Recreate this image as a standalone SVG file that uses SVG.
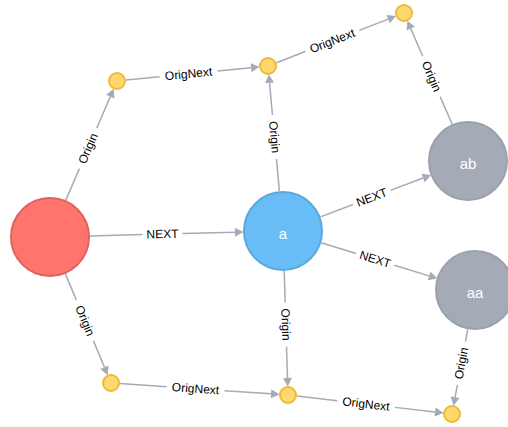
<svg xmlns="http://www.w3.org/2000/svg" width="508" height="427" viewBox="0 0 508 427">
<style>
.bg{fill:#ffffff}
.edge line{stroke:#A5ABB6;stroke-width:1.5;fill:none}
.edge text{font-family:"Liberation Sans",Arial,sans-serif;font-size:12px;fill:#000;text-anchor:middle;dominant-baseline:central}
.big{stroke-width:2}
.red{fill:#FF756E;stroke:#E0625D}
.blue{fill:#68BDF6;stroke:#5CA8DB}
.gray{fill:#A5ABB6;stroke:#9AA1AC}
.small{fill:#FFD86E;stroke:#EDBA39;stroke-width:2}
.nl{font-family:"Liberation Sans",Arial,sans-serif;font-size:15px;fill:#ffffff;text-anchor:middle;dominant-baseline:central}
</style>
<defs>
<marker id="arr" markerUnits="userSpaceOnUse" markerWidth="10" markerHeight="10" viewBox="0 -5 9 10" refX="0" refY="0" orient="auto">
<path d="M0,-4.5 L8.5,0 L0,4.5 Z" fill="#A5ABB6"/>
</marker>
</defs>
<rect class="bg" x="0" y="0" width="508" height="427"/>
<g id="connectors">
<g class="edge" transform="translate(88.04,148.44) rotate(-66.76)"><line x1="-56.4" y1="0" x2="-22" y2="0"/><line x1="22" y1="0" x2="56.4" y2="0" marker-end="url(#arr)"/><text x="0" y="0">Origin</text></g>
<g class="edge" transform="translate(84.94,320.6) rotate(67.33)"><line x1="-50.6" y1="0" x2="-22" y2="0"/><line x1="22" y1="0" x2="50.6" y2="0" marker-end="url(#arr)"/><text x="0" y="0">Origin</text></g>
<g class="edge" transform="translate(162.5,234.1) rotate(-1.475)"><line x1="-72.54" y1="0" x2="-20" y2="0"/><line x1="20" y1="0" x2="72.54" y2="0" marker-end="url(#arr)"/><text x="0" y="0">NEXT</text></g>
<g class="edge" transform="translate(188.52,73.9) rotate(-5.673)"><line x1="-62.87" y1="0" x2="-29" y2="0"/><line x1="29" y1="0" x2="62.87" y2="0" marker-end="url(#arr)"/><text x="0" y="0">OrigNext</text></g>
<g class="edge" transform="translate(332.27,40.95) rotate(-21.29)"><line x1="-59.98" y1="0" x2="-29" y2="0"/><line x1="29" y1="0" x2="59.98" y2="0" marker-end="url(#arr)"/><text x="0" y="0">OrigNext</text></g>
<g class="edge" transform="translate(274.46,137.05) rotate(84.81)"><line x1="54.34" y1="0" x2="22" y2="0"/><line x1="-22" y1="0" x2="-54.34" y2="0" marker-end="url(#arr)"/><text x="0" y="0">Origin</text></g>
<g class="edge" transform="translate(431.44,76.45) rotate(66.62)"><line x1="52.12" y1="0" x2="22" y2="0"/><line x1="-22" y1="0" x2="-52.12" y2="0" marker-end="url(#arr)"/><text x="0" y="0">Origin</text></g>
<g class="edge" transform="translate(371.76,197.42) rotate(-20.73)"><line x1="-54.9" y1="0" x2="-20" y2="0"/><line x1="20" y1="0" x2="54.9" y2="0" marker-end="url(#arr)"/><text x="0" y="0">NEXT</text></g>
<g class="edge" transform="translate(375.18,259.33) rotate(17.08)"><line x1="-56.43" y1="0" x2="-20" y2="0"/><line x1="20" y1="0" x2="56.43" y2="0" marker-end="url(#arr)"/><text x="0" y="0">NEXT</text></g>
<g class="edge" transform="translate(285.85,324.49) rotate(88.25)"><line x1="-53.54" y1="0" x2="-22" y2="0"/><line x1="22" y1="0" x2="53.54" y2="0" marker-end="url(#arr)"/><text x="0" y="0">Origin</text></g>
<g class="edge" transform="translate(195.51,388.73) rotate(3.878)"><line x1="-75.7" y1="0" x2="-29" y2="0"/><line x1="29" y1="0" x2="75.7" y2="0" marker-end="url(#arr)"/><text x="0" y="0">OrigNext</text></g>
<g class="edge" transform="translate(366.03,404.04) rotate(6.609)"><line x1="-69.55" y1="0" x2="-29" y2="0"/><line x1="29" y1="0" x2="69.55" y2="0" marker-end="url(#arr)"/><text x="0" y="0">OrigNext</text></g>
<g class="edge" transform="translate(461.4,363.31) rotate(-79.49)"><line x1="34.56" y1="0" x2="22" y2="0"/><line x1="-22" y1="0" x2="-34.56" y2="0" marker-end="url(#arr)"/><text x="0" y="0">Origin</text></g>
</g>
<g id="node-red"><circle class="big red" cx="50" cy="237" r="39"/></g>
<g id="node-a"><circle class="big blue" cx="283" cy="231" r="39"/><text class="nl" x="283" y="233">a</text></g>
<g id="node-ab"><circle class="big gray" cx="468" cy="161" r="39"/><text class="nl" x="468" y="163">ab</text></g>
<g id="node-aa"><circle class="big gray" cx="475" cy="290" r="39"/><text class="nl" x="475" y="292">aa</text></g>
<g id="node-y1"><circle class="small" cx="117" cy="81" r="8"/></g>
<g id="node-y2"><circle class="small" cx="268" cy="66" r="8"/></g>
<g id="node-y3"><circle class="small" cx="404" cy="13" r="8"/></g>
<g id="node-y4"><circle class="small" cx="111" cy="383" r="8"/></g>
<g id="node-y5"><circle class="small" cx="288" cy="395" r="8"/></g>
<g id="node-y6"><circle class="small" cx="452" cy="414" r="8"/></g>
</svg>
